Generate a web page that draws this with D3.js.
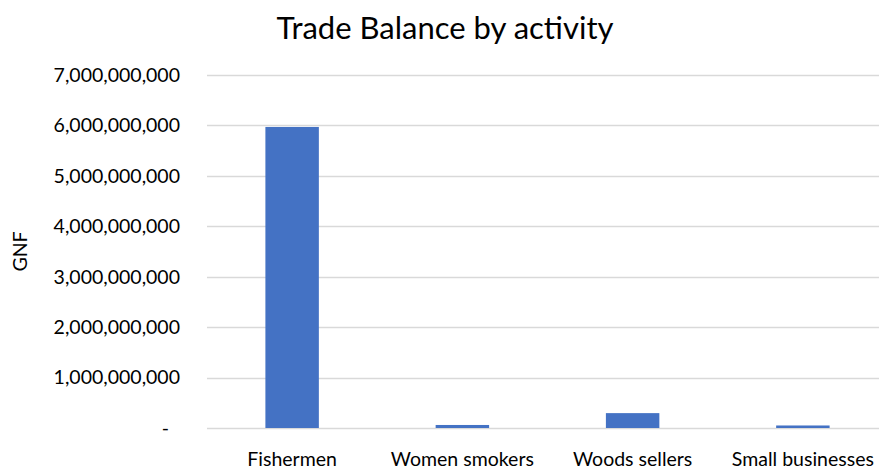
<!DOCTYPE html>
<html>
<head>
<meta charset="utf-8">
<script src="https://cdnjs.cloudflare.com/ajax/libs/d3/7.8.5/d3.min.js"></script>
<style>
  body { margin: 0; background: #fff; overflow: hidden; }
  text { font-family: Lato, "Open Sans", sans-serif; fill: #000; }
</style>
</head>
<body>
<div class="chart-box"></div>
<script>
const categories = ["Fishermen", "Women smokers", "Woods sellers", "Small businesses"];
const values = [5970000000, 60000000, 295000000, 50000000];
const yTicks = [0, 1e9, 2e9, 3e9, 4e9, 5e9, 6e9, 7e9];

const W = 879, H = 471;
// plot area runs a little past the right edge, as in the original
const margin = {top: 75, right: -9, bottom: 43, left: 207};
const width = W - margin.left - margin.right,
  height = H - margin.top - margin.bottom;

const svg = d3.select(".chart-box").append("svg")
  .attr("width", W)
  .attr("height", H);

const g = svg.append("g")
  .attr("transform", "translate(" + margin.left + "," + margin.top + ")");

const x = d3.scaleBand()
  .domain(categories)
  .range([0, width])
  .paddingInner(0.686)
  .paddingOuter(0.343);

const y = d3.scaleLinear()
  .domain([0, 7e9])
  .range([height, 0]);

// gridlines
g.append("g")
  .selectAll("line")
  .data(yTicks)
  .enter().append("line")
  .attr("x1", 0)
  .attr("x2", width)
  .attr("y1", d => Math.round(y(d)) + 0.5)
  .attr("y2", d => Math.round(y(d)) + 0.5)
  .attr("stroke", "#d9d9d9")
  .attr("stroke-width", 1.5);

// y tick labels
const fmt = d3.format(",");
g.append("g")
  .selectAll("text")
  .data(yTicks)
  .enter().append("text")
  .attr("x", d => d === 0 ? -38 : -27)
  .attr("y", d => y(d))
  .attr("dy", "0.35em")
  .attr("text-anchor", "end")
  .style("font-size", "19.5px")
  .text(d => d === 0 ? "-" : fmt(d));

// bars
g.append("g")
  .selectAll("rect")
  .data(values)
  .enter().append("rect")
  .attr("x", (d, i) => x(categories[i]))
  .attr("y", d => y(d))
  .attr("width", x.bandwidth())
  .attr("height", d => height - y(d))
  .attr("fill", "#4472c4");

// x labels
g.append("g")
  .selectAll("text")
  .data(categories)
  .enter().append("text")
  .attr("x", d => x(d) + x.bandwidth() / 2)
  .attr("y", height + 38)
  .attr("text-anchor", "middle")
  .style("font-size", "19.5px")
  .text(d => d);

// axis title
svg.append("text")
  .attr("transform", "translate(27," + (margin.top + height / 2) + ") rotate(-90)")
  .attr("text-anchor", "middle")
  .style("font-size", "19.5px")
  .text("GNF");

// chart title
svg.append("text")
  .attr("x", 445)
  .attr("y", 39)
  .attr("text-anchor", "middle")
  .style("font-size", "31px")
  .text("Trade Balance by activity");
</script>
</body>
</html>
